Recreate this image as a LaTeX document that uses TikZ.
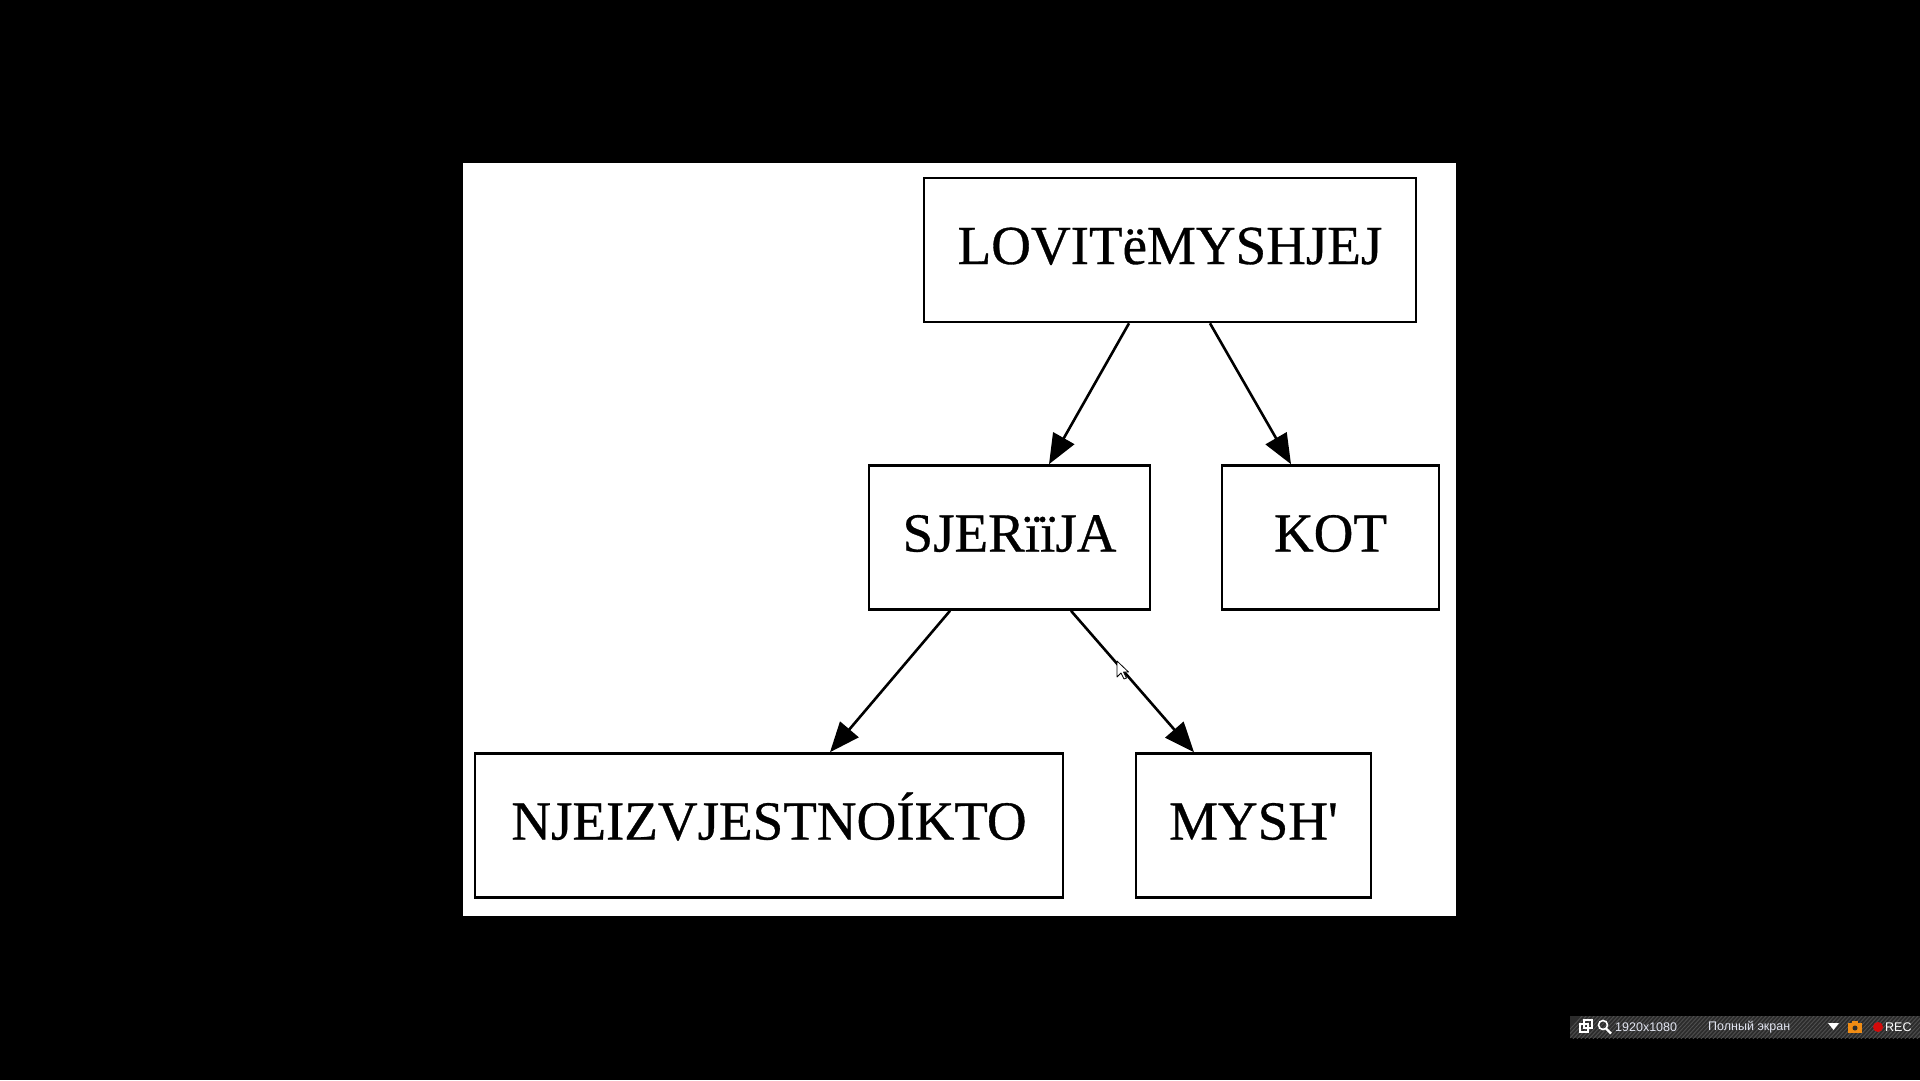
\documentclass[tikz,border=0pt]{standalone}
\usepackage{fontspec}
\setmainfont{Liberation Serif}[FakeBold=0.6]
\newfontfamily\uifont{Liberation Sans}
\usetikzlibrary{arrows.meta}
\definecolor{barbg}{RGB}{44,44,44}
\definecolor{bartext}{RGB}{225,228,240}
\definecolor{camorange}{RGB}{240,140,20}
\definecolor{recred}{RGB}{210,10,10}
\begin{document}
\begin{tikzpicture}[x=1pt,y=-1pt,
  box/.style={draw=black,line width=2.6pt,fill=white,inner sep=0pt,minimum height=144pt,
    text height=33pt,text depth=5pt,
    font=\fontsize{55}{60}\selectfont},
  link/.style={line width=2.6pt,-{Triangle[length=30pt,width=24pt]}},
  ui/.style={font=\uifont\fontsize{12.5}{14}\selectfont,text=bartext,inner sep=0pt,anchor=west}]
\useasboundingbox (0,0) rectangle (1920,1080);
\fill[black] (0,0) rectangle (1920,1080);
\fill[white] (463,163) rectangle (1456,916);
% nodes
\node[box,minimum width=492pt] (lov) at (1170,250) {LOVITëMYSHJEJ};
\node[box,minimum width=281pt] (sje) at (1009.5,537.5) {SJERïïJA};
\node[box,minimum width=217pt] (kot) at (1330.5,537.5) {KOT};
\node[box,minimum width=588pt] (nje) at (769,825.5) {NJEIZVJESTNOÍKTO};
\node[box,minimum width=235pt] (mys) at (1253.5,825.5) {MYSH\textquotesingle};
% connectors
\draw[link] ([xshift=-41pt]lov.south) -- ([xshift=39.5pt]sje.north);
\draw[link] ([xshift=40pt]lov.south) -- ([xshift=-39.5pt]kot.north);
\draw[link] ([xshift=-59.5pt]sje.south) -- ([xshift=61pt]nje.north);
\draw[link] ([xshift=61.5pt]sje.south) -- ([xshift=-59.5pt]mys.north);
% mouse cursor
\draw[fill=white,draw=black,line width=0.8pt,line join=round]
  (1117,661) -- (1117,677) -- (1121,673) -- (1124,679) -- (1126.5,678) -- (1123.5,672) -- (1128.5,672) -- cycle;
% status bar
\fill[barbg] (1570,1016) rectangle (1920,1038);
\begin{scope}
\clip (1570,1016) rectangle (1920,1038);
\foreach \i in {0,4,...,380}{\draw[white!18!barbg,line width=0.8pt] (1560+\i,1040) -- (1584+\i,1014);}
\end{scope}
% window icon
\draw[white,line width=1.3pt] (1580,1024) rectangle (1588,1032);
\draw[white,line width=1.3pt] (1584,1020) rectangle (1592,1028);
% magnifier
\draw[white,line width=1.6pt] (1603,1025) circle (4.5pt);
\draw[white,line width=2.2pt] (1606,1028.5) -- (1611,1033.5);
\node[ui] (res) at (1615,1027) {1920x1080};
\node[ui] (mode) at (1708,1027) {Полный экран};
\fill[white] (1828,1023) -- (1839,1023) -- (1833.5,1030) -- cycle;
% camera icon
\fill[camorange] (1848,1023) rectangle (1862,1033);
\fill[camorange] (1852,1021) rectangle (1858,1023);
\fill[barbg] (1855,1028) circle (2.5pt);
\fill[recred] (1878,1027) circle (5pt);
\node[ui,text=white] (rec) at (1885,1027) {REC};
\end{tikzpicture}
\end{document}
